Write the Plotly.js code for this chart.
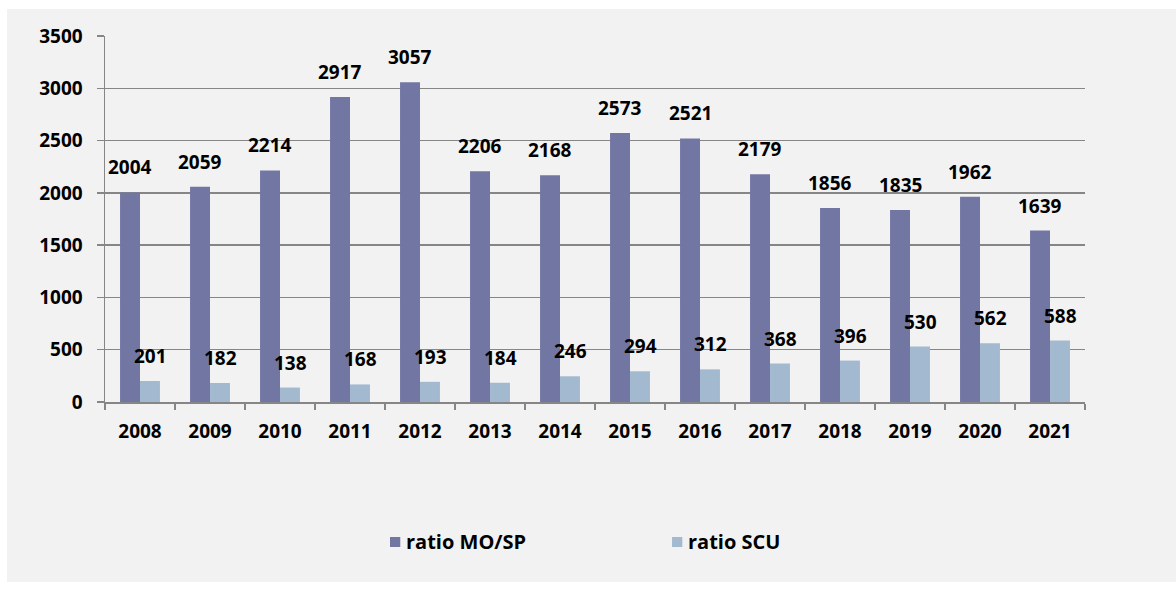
<!DOCTYPE html>
<html><head><meta charset="utf-8">
<script src="https://cdn.plot.ly/plotly-3.0.1.min.js"></script>
<style>
html,body{margin:0;padding:0;background:#ffffff;overflow:hidden}
body{position:relative;width:1176px;height:590px}
#chart{position:absolute;left:7px;top:9px;width:1169px;height:573px}
</style></head><body><div id="chart"></div>
<script>
const years = ['2008','2009','2010','2011','2012','2013','2014','2015','2016','2017','2018','2019','2020','2021'];
const ratioMOSP = [2004,2059,2214,2917,3057,2206,2168,2573,2521,2179,1856,1835,1962,1639];
const ratioSCU = [201,182,138,168,193,184,246,294,312,368,396,530,562,588];
const seriesNames = ['ratio MO/SP','ratio SCU'];
const yTicks = [0,500,1000,1500,2000,2500,3000,3500];

const colors = ['#7276a2','#a3b9d0'];
const fontFam = '"Open Sans", "Liberation Sans", sans-serif';

const traces = [ratioMOSP, ratioSCU].map((vals, i) => ({
  type: 'bar', x: years, y: vals, name: seriesNames[i],
  marker: {color: colors[i], line: {width: 0}},
  hoverinfo: 'x+y'
}));

const annotations = [];
[ratioMOSP, ratioSCU].forEach((vals, i) => {
  vals.forEach((v, k) => {
    annotations.push({
      x: k, y: v, xref: 'x', yref: 'y', text: String(v),
      showarrow: false, xanchor: 'center', yanchor: 'bottom',
      xshift: i === 0 ? -10 : 10, yshift: 10,
      font: {family: fontFam, size: 19, color: '#000', weight: 'bold'}
    });
  });
});

// manual legend (paper coordinates)
const legendX = [0.2908, 0.5786];
const legendY = -0.3825;
const shapes = [];
seriesNames.forEach((nm, i) => {
  shapes.push({type: 'rect', xref: 'paper', yref: 'paper',
    x0: legendX[i], x1: legendX[i] + 0.0105, y0: legendY - 0.0137, y1: legendY + 0.0137,
    fillcolor: colors[i], line: {width: 0}});
  annotations.push({xref: 'paper', yref: 'paper', x: legendX[i] + 0.0145, y: legendY,
    xanchor: 'left', yanchor: 'middle', showarrow: false, text: nm,
    font: {family: fontFam, size: 20, color: '#000', weight: 'bold'}});
});

const layout = {
  width: 1169, height: 573,
  margin: {l: 98, r: 91, t: 27, b: 180},
  paper_bgcolor: '#f2f2f2', plot_bgcolor: '#f2f2f2',
  barmode: 'group', bargap: 0.43, bargroupgap: 0,
  showlegend: false,
  xaxis: {
    type: 'category', range: [-0.5, years.length - 0.5], autorange: false,
    tickson: 'boundaries', ticks: 'outside', ticklen: 6, tickcolor: '#868686', tickwidth: 1.5,
    showline: true, linecolor: '#868686', linewidth: 1.5, showgrid: false, tickangle: 0,
    tickfont: {family: fontFam, size: 19, color: '#000', weight: 'bold'}, ticklabelstandoff: 12
  },
  yaxis: {
    range: [0, 3500], autorange: false, tickvals: yTicks, ticktext: yTicks.map(String),
    ticks: 'outside', ticklen: 7, tickcolor: '#868686', tickwidth: 1.5,
    showline: true, linecolor: '#868686', linewidth: 1.5,
    showgrid: true, gridcolor: '#868686', gridwidth: 1.5, zeroline: false,
    tickfont: {family: fontFam, size: 19, color: '#000', weight: 'bold'}, ticklabelstandoff: 10
  },
  shapes: shapes,
  annotations: annotations
};

Plotly.newPlot('chart', traces, layout, {displayModeBar: false, staticPlot: true});
</script></body></html>
